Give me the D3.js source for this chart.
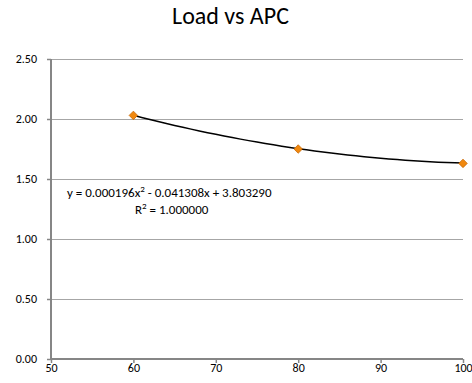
<!DOCTYPE html>
<html>
<head>
<meta charset="utf-8">
<script src="https://cdn.jsdelivr.net/npm/d3@7"></script>
<style>
  body { margin: 0; background: #fff; }
  svg { font-family: Carlito, Calibri, "Liberation Sans", sans-serif; }
</style>
</head>
<body>
<div id="chart"></div>
<script>
// data
const loads = [60, 80, 100];
const apc = [2.03, 1.75, 1.63];
// trendline y = a*x^2 + b*x + c
const trendCoef = [0.000196, -0.041308, 3.803290];
const yTicks = [0, 0.5, 1.0, 1.5, 2.0, 2.5];
const xTicks = [50, 60, 70, 80, 90, 100];

const width = 472, height = 383;
const margin = { top: 59, right: 9, bottom: 24, left: 51 };

const svg = d3.select("#chart").append("svg")
  .attr("width", width)
  .attr("height", height);

const x = d3.scaleLinear().domain([50, 100]).range([margin.left, width - margin.right]);
const y = d3.scaleLinear().domain([0, 2.5]).range([height - margin.bottom, margin.top]);

// title
svg.append("text")
  .attr("x", 230.5)
  .attr("y", 24)
  .attr("text-anchor", "middle")
  .style("font-size", "24px")
  .attr("fill", "#000")
  .text("Load vs APC");

// gridlines
svg.append("g")
  .selectAll("line")
  .data(yTicks.filter(d => d > 0))
  .join("line")
  .attr("x1", x(50))
  .attr("x2", x(100))
  .attr("y1", d => Math.round(y(d)) + 0.5)
  .attr("y2", d => Math.round(y(d)) + 0.5)
  .attr("stroke", "#a6a6a6")
  .attr("stroke-width", 1);

// y axis
const yAxis = svg.append("g")
  .attr("transform", `translate(${x(50)},0)`)
  .call(d3.axisLeft(y).tickValues(yTicks).tickFormat(d3.format(".2f")).tickSize(4).tickPadding(10));

// x axis
const xAxis = svg.append("g")
  .attr("transform", `translate(0,${y(0)})`)
  .call(d3.axisBottom(x).tickValues(xTicks).tickFormat(d3.format("d")).tickSize(4).tickPadding(0));

[yAxis, xAxis].forEach(g => {
  g.select(".domain").attr("stroke", "#868686").attr("stroke-width", 2);
  g.selectAll(".tick line").attr("stroke", "#868686").attr("stroke-width", 1.5);
  g.selectAll(".tick text").attr("fill", "#000").style("font-size", "12px")
    .style("font-family", 'Carlito, Calibri, "Liberation Sans", sans-serif');
});
yAxis.select(".domain").attr("d", `M0,${y(2.5)}V${y(0)}`);
xAxis.select(".domain").attr("d", `M${x(50)},0H${x(100)}`);

// polynomial trendline over the data range
const trendX = d3.range(loads[0], loads[loads.length - 1] + 0.5, 1);
const poly = v => trendCoef[0] * v * v + trendCoef[1] * v + trendCoef[2];
svg.append("path")
  .datum(trendX)
  .attr("fill", "none")
  .attr("stroke", "#000")
  .attr("stroke-width", 1.5)
  .attr("d", d3.line().x(d => x(d)).y(d => y(poly(d))));

// markers
svg.append("g")
  .selectAll("path")
  .data(loads.map((d, i) => [d, apc[i]]))
  .join("path")
  .attr("transform", d => `translate(${x(d[0])},${y(d[1])})`)
  .attr("d", d3.symbol(d3.symbolDiamond2, 46))
  .attr("fill", "#f0880f")
  .attr("stroke", "#c86a08")
  .attr("stroke-width", 0.8);

// trendline label
const label = svg.append("g").style("font-size", "13px").attr("fill", "#000");
const eq = label.append("text").attr("x", 67).attr("y", 197);
eq.append("tspan").text("y = 0.000196x");
eq.append("tspan").attr("dy", -5).style("font-size", "9px").text("2");
eq.append("tspan").attr("dy", 5).text(" - 0.041308x + 3.803290");
const r2 = label.append("text").attr("x", 135).attr("y", 214);
r2.append("tspan").text("R");
r2.append("tspan").attr("dy", -5).style("font-size", "9px").text("2");
r2.append("tspan").attr("dy", 5).text(" = 1.000000");
</script>
</body>
</html>
